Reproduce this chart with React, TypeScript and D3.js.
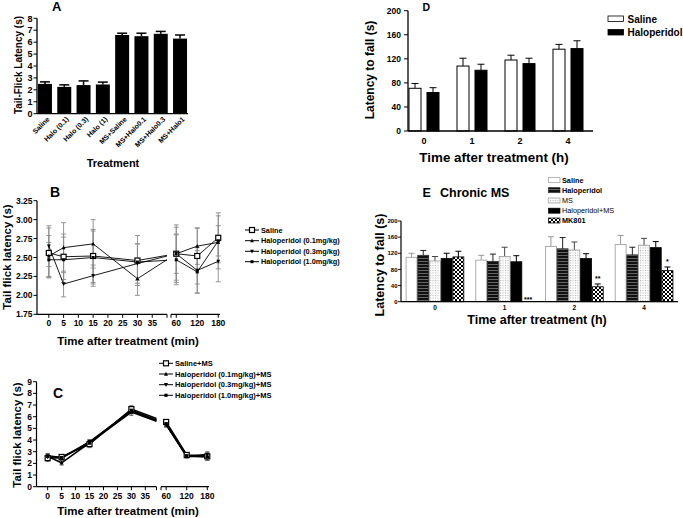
import React from 'react';
import * as d3 from 'd3';

const FONT = '"Liberation Sans", Arial, Helvetica, sans-serif';

// ---------- Panel A ----------
const aCategories = ['Saline', 'Halo (0.1)', 'Halo (0.3)', 'Halo (1)', 'MS+Saline', 'MS+Halo0.1', 'MS+Halo0.3', 'MS+Halo1'];
const aMeans = [2.5, 2.25, 2.4, 2.45, 6.6, 6.5, 6.7, 6.3];
const aErrors = [0.17, 0.17, 0.35, 0.2, 0.15, 0.25, 0.2, 0.3];
const aTicks = [0, 1, 2, 3, 4, 5, 6, 7, 8];

// ---------- Panels B & C (time course) ----------
const timePoints = [0, 5, 15, 30, 60, 120, 180];
const leftTicks = [0, 5, 10, 15, 20, 25, 30, 35];
const rightTicks = [60, 120, 180];

const bTicks = [1.75, 2.0, 2.25, 2.5, 2.75, 3.0, 3.25];
const bNames = ['Saline', 'Haloperidol (0.1mg/kg)', 'Haloperidol (0.3mg/kg)', 'Haloperidol (1.0mg/kg)'];
const bSaline = [2.56, 2.51, 2.52, 2.46, 2.55, 2.52, 2.76];
const bSalineErr = [0.33, 0.3, 0.35, 0.33, 0.38, 0.37, 0.33];
const bHalo01 = [2.52, 2.63, 2.68, 2.22, 2.55, 2.65, 2.7];
const bHalo01Err = [0.27, 0.33, 0.32, 0.22, 0.35, 0.24, 0.35];
const bHalo03 = [2.65, 2.15, 2.26, 2.42, 2.55, 2.33, 2.45];
const bHalo03Err = [0.27, 0.17, 0.14, 0.26, 0.26, 0.3, 0.27];
const bHalo10 = [2.47, 2.47, 2.5, 2.44, 2.47, 2.31, 2.72];
const bHalo10Err = [0.23, 0.3, 0.35, 0.24, 0.33, 0.28, 0.2];

const cTicks = [0, 1, 2, 3, 4, 5, 6, 7, 8, 9];
const cNames = ['Saline+MS', 'Haloperidol (0.1mg/kg)+MS', 'Haloperidol (0.3mg/kg)+MS', 'Haloperidol (1.0mg/kg)+MS'];
const cSaline = [2.45, 2.55, 3.65, 6.65, 5.55, 2.72, 2.6];
const cSalineErr = [0.3, 0.15, 0.3, 0.3, 0.2, 0.15, 0.3];
const cHalo01 = [2.6, 2.05, 3.75, 6.4, 5.3, 2.6, 2.6];
const cHalo01Err = [0.25, 0.2, 0.25, 0.3, 0.2, 0.15, 0.35];
const cHalo03 = [2.55, 2.45, 3.85, 6.5, 5.35, 2.62, 2.75];
const cHalo03Err = [0.2, 0.2, 0.2, 0.25, 0.2, 0.15, 0.25];
const cHalo10 = [2.65, 2.5, 3.8, 6.55, 5.4, 2.65, 2.55];
const cHalo10Err = [0.2, 0.2, 0.2, 0.3, 0.2, 0.15, 0.3];

// ---------- Panel D ----------
const dGroups = ['0', '1', '2', '4'];
const dNames = ['Saline', 'Haloperidol'];
const dSaline = [71, 108, 118, 136];
const dSalineErr = [8, 13, 8, 8];
const dHalo = [64, 101, 112, 137];
const dHaloErr = [8, 10, 9, 13];
const dTicks = [0, 40, 80, 120, 160, 200];

// ---------- Panel E ----------
const eGroups = ['0', '1', '2', '4'];
const eNames = ['Saline', 'Haloperidol', 'MS', 'Haloperidol+MS', 'MK801'];
const eSaline = [110, 103, 137, 142];
const eSalineErr = [10, 12, 24, 22];
const eHalo = [115, 100, 131, 116];
const eHaloErr = [12, 18, 28, 19];
const eMS = [101, 112, 128, 140];
const eMSErr = [11, 23, 20, 17];
const eHaloMS = [107, 99, 107, 134];
const eHaloMSErr = [13, 15, 12, 15];
const eMK801: (number | null)[] = [111, null, 37, 77];
const eMK801Err: (number | null)[] = [14, null, 7, 9];
const eSignif = ['', '***', '**', '*'];
const eTicks = [0, 40, 80, 120, 160, 200];

type MarkerKind = 'openSquare' | 'triUp' | 'triDown' | 'square';

function Marker({ kind, x, y, s }: { kind: MarkerKind; x: number; y: number; s: number }) {
  if (kind === 'openSquare')
    return <rect x={x - s / 2} y={y - s / 2} width={s} height={s} fill="#fff" stroke="#000" strokeWidth={1.2} />;
  if (kind === 'square')
    return <rect x={x - s / 2} y={y - s / 2} width={s} height={s} fill="#000" />;
  if (kind === 'triUp')
    return <path d={`M${x},${y - s / 2 - 0.5}L${x + s / 2 + 0.3},${y + s / 2}L${x - s / 2 - 0.3},${y + s / 2}Z`} fill="#000" />;
  return <path d={`M${x},${y + s / 2 + 0.5}L${x + s / 2 + 0.3},${y - s / 2}L${x - s / 2 - 0.3},${y - s / 2}Z`} fill="#000" />;
}

type Series = { name: string; values: number[]; errors: number[]; marker: MarkerKind; msize: number };

function TimePanel(props: {
  title: string; titleX: number; titleY: number;
  yDomain: [number, number]; yRange: [number, number]; yTicks: number[]; yFmt: (v: number) => string;
  xLDomain: [number, number]; xLRange: [number, number];
  xRDomain: [number, number]; xRRange: [number, number];
  series: Series[]; lineWidth: number; errColor: string; capW: number;
  yLabel: string; yLabelX: number; yLabelY: number;
  xLabel: string; xLabelX: number; xLabelY: number; labelSize: number;
  legendX: number; legendYs: number[]; legendSize: number;
}) {
  const p = props;
  const y = d3.scaleLinear().domain(p.yDomain).range(p.yRange);
  const xL = d3.scaleLinear().domain(p.xLDomain).range(p.xLRange);
  const xR = d3.scaleLinear().domain(p.xRDomain).range(p.xRRange);
  const px = (t: number) => (t <= p.xLDomain[1] ? xL(t) : xR(t));
  const axisY = p.yRange[0];
  const line = d3.line<[number, number]>();
  return (
    <g>
      <text x={p.titleX} y={p.titleY} fontSize={14} fontWeight="bold">{p.title}</text>
      {/* y axis */}
      <line x1={p.xLRange[0]} x2={p.xLRange[0]} y1={p.yRange[1]} y2={axisY} stroke="#000" strokeWidth={1.2} />
      {p.yTicks.map((t) => (
        <g key={'yt' + t}>
          <line x1={p.xLRange[0] - 3.5} x2={p.xLRange[0]} y1={y(t)} y2={y(t)} stroke="#000" strokeWidth={1} />
          <text x={p.xLRange[0] - 4.5} y={y(t) + 3} fontSize={8.5} fontWeight="bold" textAnchor="end">{p.yFmt(t)}</text>
        </g>
      ))}
      {/* x axis segments */}
      <line x1={p.xLRange[0]} x2={p.xLRange[1]} y1={axisY} y2={axisY} stroke="#000" strokeWidth={1.2} />
      <line x1={p.xLRange[1]} x2={p.xLRange[1]} y1={axisY} y2={axisY + 3.5} stroke="#000" strokeWidth={1} />
      <line x1={p.xRRange[0]} x2={p.xRRange[1]} y1={axisY} y2={axisY} stroke="#000" strokeWidth={1.2} />
      <line x1={p.xRRange[0]} x2={p.xRRange[0]} y1={axisY} y2={axisY + 3.5} stroke="#000" strokeWidth={1} />
      {leftTicks.map((t) => (
        <g key={'xl' + t}>
          <line x1={xL(t)} x2={xL(t)} y1={axisY} y2={axisY + 3.5} stroke="#000" strokeWidth={1} />
          <text x={xL(t)} y={axisY + 12} fontSize={8.5} fontWeight="bold" textAnchor="middle">{t}</text>
        </g>
      ))}
      {rightTicks.map((t) => (
        <g key={'xr' + t}>
          <line x1={xR(t)} x2={xR(t)} y1={axisY} y2={axisY + 3.5} stroke="#000" strokeWidth={1} />
          <text x={xR(t)} y={axisY + 12} fontSize={8.5} fontWeight="bold" textAnchor="middle">{t}</text>
        </g>
      ))}
      {/* error bars */}
      {p.series.map((s) => (
        <g key={'e' + s.name}>
          {timePoints.map((t, i) => {
            const cx = px(t);
            const hi = y(s.values[i] + s.errors[i]);
            const lo = y(s.values[i] - s.errors[i]);
            return (
              <g key={t}>
                <line x1={cx} x2={cx} y1={hi} y2={lo} stroke={p.errColor} strokeWidth={0.9} />
                <line x1={cx - p.capW / 2} x2={cx + p.capW / 2} y1={hi} y2={hi} stroke={p.errColor} strokeWidth={0.9} />
                <line x1={cx - p.capW / 2} x2={cx + p.capW / 2} y1={lo} y2={lo} stroke={p.errColor} strokeWidth={0.9} />
              </g>
            );
          })}
        </g>
      ))}
      {/* lines */}
      {p.series.map((s) => {
        const leftPts: [number, number][] = [];
        const rightPts: [number, number][] = [];
        timePoints.forEach((t, i) => {
          const pt: [number, number] = [px(t), y(s.values[i])];
          if (t <= p.xLDomain[1]) leftPts.push(pt); else rightPts.push(pt);
        });
        const a = leftPts[leftPts.length - 1];
        const b = rightPts[0];
        const xe = p.xLRange[1];
        const ye = a[1] + ((b[1] - a[1]) * (xe - a[0])) / (b[0] - a[0]);
        leftPts.push([xe, ye]);
        return (
          <g key={'l' + s.name}>
            <path d={line(leftPts) || ''} fill="none" stroke="#000" strokeWidth={p.lineWidth} />
            <path d={line(rightPts) || ''} fill="none" stroke="#000" strokeWidth={p.lineWidth} />
          </g>
        );
      })}
      {/* markers */}
      {p.series.map((s) => (
        <g key={'m' + s.name}>
          {timePoints.map((t, i) => (
            <Marker key={t} kind={s.marker} x={px(t)} y={y(s.values[i])} s={s.msize} />
          ))}
        </g>
      ))}
      {/* labels */}
      <text transform={`translate(${p.yLabelX},${p.yLabelY}) rotate(-90)`} textAnchor="middle" fontSize={p.labelSize} fontWeight="bold">{p.yLabel}</text>
      <text x={p.xLabelX} y={p.xLabelY} textAnchor="middle" fontSize={p.labelSize} fontWeight="bold">{p.xLabel}</text>
      {/* legend */}
      {p.series.map((s, i) => (
        <g key={'lg' + s.name}>
          <line x1={p.legendX} x2={p.legendX + 14} y1={p.legendYs[i]} y2={p.legendYs[i]} stroke="#000" strokeWidth={1} />
          <Marker kind={s.marker} x={p.legendX + 7} y={p.legendYs[i]} s={s.msize} />
          <text x={p.legendX + 16} y={p.legendYs[i] + 2.7} fontSize={p.legendSize} fontWeight="bold">{s.name}</text>
        </g>
      ))}
    </g>
  );
}

function PanelA() {
  const x = d3.scaleBand<string>().domain(aCategories).range([37, 188]).paddingInner(0.275).paddingOuter(0.05);
  const y = d3.scaleLinear().domain([0, 8]).range([113.7, 18.3]);
  const bw = x.bandwidth();
  return (
    <g>
      <text x={52} y={11} fontSize={13} fontWeight="bold">A</text>
      {aCategories.map((c, i) => {
        const x0 = x(c) as number;
        const cx = x0 + bw / 2;
        const top = y(aMeans[i] + aErrors[i]);
        return (
          <g key={c}>
            <line x1={cx} x2={cx} y1={y(aMeans[i])} y2={top} stroke="#000" strokeWidth={1.5} />
            <line x1={cx - 5} x2={cx + 5} y1={top} y2={top} stroke="#000" strokeWidth={1.5} />
            <rect x={x0} y={y(aMeans[i])} width={bw} height={y(0) - y(aMeans[i])} fill="#000" />
            <text transform={`translate(${cx + 5},${y(0) + 6}) rotate(-45)`} textAnchor="end" fontSize={7} fontWeight="bold">{c}</text>
          </g>
        );
      })}
      <line x1={37} x2={37} y1={y(8)} y2={y(0)} stroke="#000" strokeWidth={1.3} />
      <line x1={37} x2={188} y1={y(0)} y2={y(0)} stroke="#000" strokeWidth={1.3} />
      {aTicks.map((t) => (
        <g key={t}>
          <line x1={33.5} x2={37} y1={y(t)} y2={y(t)} stroke="#000" strokeWidth={1} />
          <text x={32.5} y={y(t) + 3.2} fontSize={9} fontWeight="bold" textAnchor="end">{t}</text>
        </g>
      ))}
      <text transform="translate(22,65) rotate(-90)" textAnchor="middle" fontSize={10} fontWeight="bold">Tail-Flick Latency (s)</text>
      <text x={113} y={167} textAnchor="middle" fontSize={11} fontWeight="bold">Treatment</text>
    </g>
  );
}

function PanelD() {
  const x = d3.scaleBand<string>().domain(dGroups).range([409, 583]).paddingInner(0.375).paddingOuter(0);
  const inner = d3.scaleBand<string>().domain(dNames).range([0, x.bandwidth()]).paddingInner(1 / 3);
  const y = d3.scaleLinear().domain([0, 200]).range([131, 10.7]);
  const data = [
    { name: dNames[0], values: dSaline, errors: dSalineErr, fill: '#fff' },
    { name: dNames[1], values: dHalo, errors: dHaloErr, fill: '#000' },
  ];
  const bw = inner.bandwidth();
  return (
    <g>
      <text x={422.5} y={10.5} fontSize={10.5} fontWeight="bold">D</text>
      {data.map((s) => (
        <g key={s.name}>
          {dGroups.map((g, i) => {
            const x0 = (x(g) as number) + (inner(s.name) as number);
            const cx = x0 + bw / 2;
            const top = y(s.values[i] + s.errors[i]);
            return (
              <g key={g}>
                <line x1={cx} x2={cx} y1={y(s.values[i])} y2={top} stroke="#000" strokeWidth={1} />
                <line x1={cx - 3.5} x2={cx + 3.5} y1={top} y2={top} stroke="#000" strokeWidth={1} />
                <rect x={x0} y={y(s.values[i])} width={bw} height={y(0) - y(s.values[i])} fill={s.fill} stroke="#000" strokeWidth={1} />
              </g>
            );
          })}
        </g>
      ))}
      <line x1={408} x2={408} y1={y(200)} y2={y(0)} stroke="#000" strokeWidth={1.3} />
      <line x1={408} x2={593} y1={y(0)} y2={y(0)} stroke="#000" strokeWidth={1.3} />
      {dTicks.map((t) => (
        <g key={t}>
          <line x1={404} x2={408} y1={y(t)} y2={y(t)} stroke="#000" strokeWidth={1} />
          <text x={401} y={y(t) + 3} fontSize={8.5} fontWeight="bold" textAnchor="end">{t}</text>
        </g>
      ))}
      {dGroups.map((g) => (
        <text key={g} x={(x(g) as number) + x.bandwidth() / 2} y={143.5} fontSize={9} fontWeight="bold" textAnchor="middle">{g}</text>
      ))}
      <text transform="translate(374,70) rotate(-90)" textAnchor="middle" fontSize={12} fontWeight="bold">Latency to fall (s)</text>
      <text x={494} y={161.5} textAnchor="middle" fontSize={13.4} fontWeight="bold">Time after treatment (h)</text>
      {data.map((s, i) => (
        <g key={'lg' + s.name}>
          <rect x={608} y={16 + i * 13.5} width={15.5} height={5.5} fill={s.fill} stroke="#000" strokeWidth={0.8} />
          <text x={627.5} y={22.5 + i * 13.5} fontSize={10} fontWeight="bold">{s.name}</text>
        </g>
      ))}
    </g>
  );
}

function PanelE() {
  const x = d3.scaleBand<string>().domain(eGroups).range([401, 678]).paddingInner(0.16).paddingOuter(0.067);
  const inner = d3.scaleBand<string>().domain(eNames).range([0, x.bandwidth()]).padding(0);
  const y = d3.scaleLinear().domain([0, 200]).range([301.7, 221]);
  const bw = inner.bandwidth();
  const data = [
    { name: eNames[0], values: eSaline as (number | null)[], errors: eSalineErr as (number | null)[], fill: '#fff', stroke: '#999', err: '#999', bold: true },
    { name: eNames[1], values: eHalo, errors: eHaloErr, fill: 'url(#hstripe)', stroke: '#222', err: '#222', bold: true },
    { name: eNames[2], values: eMS, errors: eMSErr, fill: 'url(#dots)', stroke: '#999', err: '#444', bold: false },
    { name: eNames[3], values: eHaloMS, errors: eHaloMSErr, fill: '#000', stroke: '#000', err: '#000', bold: false },
    { name: eNames[4], values: eMK801, errors: eMK801Err, fill: 'url(#xhatch)', stroke: '#000', err: '#000', bold: true },
  ];
  const legendYs = [180, 190.2, 200.5, 210.7, 220.5];
  return (
    <g>
      <text x={422.5} y={197} fontSize={12.5} fontWeight="bold">E</text>
      <text x={440} y={197} fontSize={12.5} fontWeight="bold">Chronic MS</text>
      {data.map((s) => (
        <g key={s.name}>
          {eGroups.map((g, i) => {
            const v = s.values[i];
            const e = s.errors[i];
            if (v == null || e == null) return null;
            const x0 = (x(g) as number) + (inner(s.name) as number);
            const cx = x0 + bw / 2;
            const top = y(v + e);
            return (
              <g key={g}>
                <line x1={cx} x2={cx} y1={y(v)} y2={top} stroke={s.err} strokeWidth={1} />
                <line x1={cx - 3} x2={cx + 3} y1={top} y2={top} stroke={s.err} strokeWidth={1} />
                <rect x={x0 + 0.4} y={y(v)} width={bw - 0.8} height={y(0) - y(v)} fill={s.fill} stroke={s.stroke} strokeWidth={0.8} />
              </g>
            );
          })}
        </g>
      ))}
      {eGroups.map((g, i) => {
        if (!eSignif[i]) return null;
        const cx = (x(g) as number) + (inner(eNames[4]) as number) + bw / 2;
        const v = eMK801[i];
        const e = eMK801Err[i];
        const yy = v == null || e == null ? y(0) + 0.5 : y(v + e) - 2.5;
        return (
          <text key={'s' + g} x={cx} y={yy} fontSize={7} fontWeight="bold" textAnchor="middle">{eSignif[i]}</text>
        );
      })}
      <line x1={401} x2={401} y1={y(200)} y2={y(0)} stroke="#000" strokeWidth={1.2} />
      <line x1={401} x2={678} y1={y(0)} y2={y(0)} stroke="#000" strokeWidth={1.2} />
      {eTicks.map((t) => (
        <g key={t}>
          <line x1={398} x2={401} y1={y(t)} y2={y(t)} stroke="#000" strokeWidth={0.9} />
          <text x={397.5} y={y(t) + 2.2} fontSize={6} fontWeight="bold" textAnchor="end">{t}</text>
        </g>
      ))}
      {eGroups.map((g) => (
        <text key={g} x={(x(g) as number) + x.bandwidth() / 2} y={310} fontSize={6.5} fontWeight="bold" textAnchor="middle">{g}</text>
      ))}
      <text transform="translate(384,265) rotate(-90)" textAnchor="middle" fontSize={12.5} fontWeight="bold">Latency to fall (s)</text>
      <text x={537} y={323.5} textAnchor="middle" fontSize={12.5} fontWeight="bold">Time after treatment (h)</text>
      {data.map((s, i) => (
        <g key={'lg' + s.name}>
          <rect x={548.5} y={legendYs[i] - 2.5} width={11.5} height={5} fill={s.fill} stroke={s.stroke} strokeWidth={0.7} />
          <text x={562} y={legendYs[i] + 2.6} fontSize={7.3} fontWeight={s.bold ? 'bold' : 'normal'}>{s.name}</text>
        </g>
      ))}
    </g>
  );
}

export default function App() {
  const bSeries: Series[] = [
    { name: bNames[0], values: bSaline, errors: bSalineErr, marker: 'openSquare', msize: 5 },
    { name: bNames[1], values: bHalo01, errors: bHalo01Err, marker: 'triUp', msize: 3.2 },
    { name: bNames[2], values: bHalo03, errors: bHalo03Err, marker: 'triDown', msize: 3.2 },
    { name: bNames[3], values: bHalo10, errors: bHalo10Err, marker: 'square', msize: 3 },
  ];
  const cSeries: Series[] = [
    { name: cNames[0], values: cSaline, errors: cSalineErr, marker: 'openSquare', msize: 5 },
    { name: cNames[1], values: cHalo01, errors: cHalo01Err, marker: 'triUp', msize: 3.4 },
    { name: cNames[2], values: cHalo03, errors: cHalo03Err, marker: 'triDown', msize: 3.4 },
    { name: cNames[3], values: cHalo10, errors: cHalo10Err, marker: 'square', msize: 3.2 },
  ];
  return (
    <svg width={683} height={518} style={{ position: 'absolute', left: 0, top: 0, background: '#fff' }} fontFamily={FONT}>
      <defs>
        <pattern id="hstripe" width={4} height={3} patternUnits="userSpaceOnUse">
          <rect width={4} height={3} fill="#111" />
          <rect width={4} height={1} fill="#666" />
        </pattern>
        <pattern id="dots" width={2.5} height={2.5} patternUnits="userSpaceOnUse">
          <rect width={2.5} height={2.5} fill="#fff" />
          <rect width={1} height={1} fill="#aaa" />
        </pattern>
        <pattern id="xhatch" width={4} height={4} patternUnits="userSpaceOnUse">
          <rect width={4} height={4} fill="#fff" />
          <path d="M0,0L4,4M4,0L0,4" stroke="#000" strokeWidth={1} />
        </pattern>
      </defs>
      <PanelA />
      <TimePanel
        title="B" titleX={50} titleY={197}
        yDomain={[1.75, 3.25]} yRange={[314.3, 200.7]} yTicks={bTicks} yFmt={d3.format('.2f')}
        xLDomain={[-4, 40]} xLRange={[37, 167]} xRDomain={[45, 185]} xRRange={[171, 220]}
        series={bSeries} lineWidth={0.9} errColor="#8a8a8a" capW={5}
        yLabel="Tail flick latency (s)" yLabelX={11} yLabelY={257}
        xLabel="Time after treatment (min)" xLabelX={128} xLabelY={345} labelSize={11.5}
        legendX={245} legendYs={[230, 240.7, 251.3, 261.7]} legendSize={7.3}
      />
      <TimePanel
        title="C" titleX={53} titleY={398}
        yDomain={[0, 9]} yRange={[486.7, 381.7]} yTicks={cTicks} yFmt={d3.format('d')}
        xLDomain={[-4, 39]} xLRange={[36.5, 156.5]} xRDomain={[45, 185]} xRRange={[161, 209]}
        series={cSeries} lineWidth={1.6} errColor="#666" capW={4}
        yLabel="Tail flick latency (s)" yLabelX={21} yLabelY={435}
        xLabel="Time after treatment (min)" xLabelX={128} xLabelY={515} labelSize={11.5}
        legendX={159} legendYs={[363.3, 374, 384.7, 395.3]} legendSize={7.5}
      />
      <PanelD />
      <PanelE />
    </svg>
  );
}
